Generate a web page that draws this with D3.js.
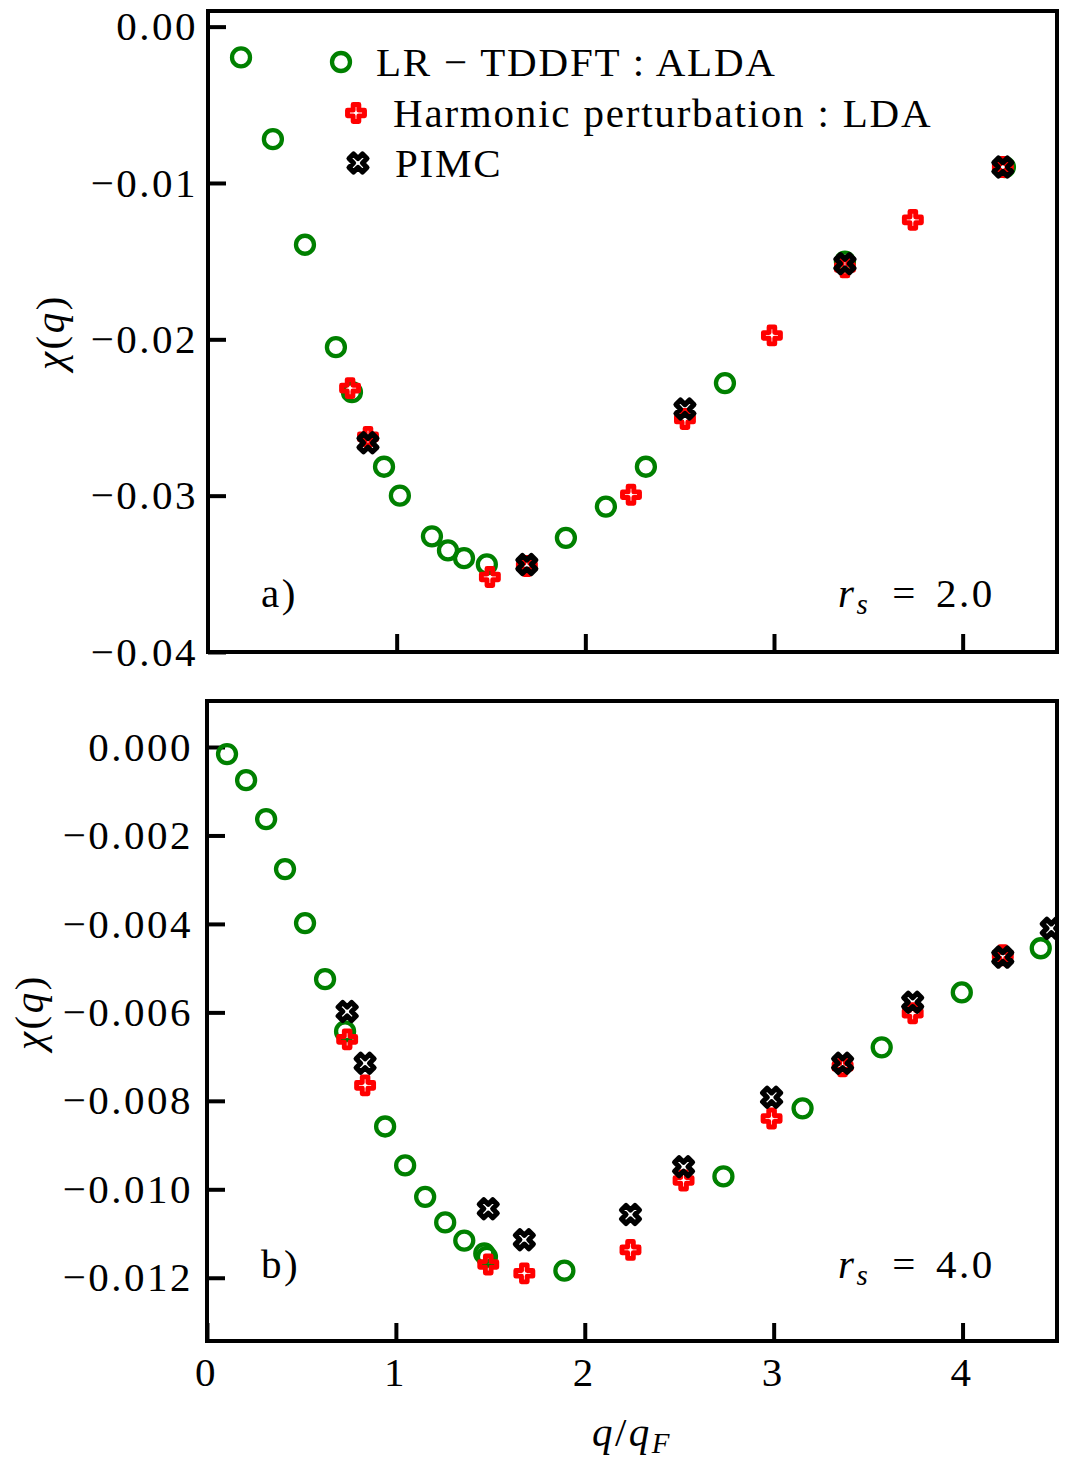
<!DOCTYPE html>
<html>
<head>
<meta charset="utf-8">
<script src="https://cdn.jsdelivr.net/npm/d3@7/dist/d3.min.js"></script>
<style>
  body { margin: 0; background: #fff; }
  svg text { font-family: "Liberation Serif", "DejaVu Serif", serif; fill: #000; letter-spacing: 2.5px; }
</style>
</head>
<body>
<svg id="chart" width="1070" height="1460"></svg>
<script>
// ---- data ----
// panel a) rs = 2.0
const aTddftQ   = [0.175, 0.344, 0.514, 0.678, 0.763, 0.933, 1.017, 1.187, 1.272, 1.357, 1.478, 1.897, 2.109, 2.321, 2.740, 3.376, 4.224];
const aTddftChi = [-0.00197, -0.0072, -0.01395, -0.0205, -0.02338, -0.02815, -0.0300, -0.0326, -0.0335, -0.0340, -0.0344, -0.0327, -0.0307, -0.02815, -0.0228, -0.01503, -0.00898];
const aHarmQ    = [0.753, 0.848, 1.494, 1.690, 2.242, 2.528, 2.989, 3.376, 3.736, 4.213];
const aHarmChi  = [-0.02312, -0.02624, -0.0352, -0.0345, -0.02994, -0.0251, -0.01975, -0.0154, -0.01236, -0.00898];
const aPimcQ    = [0.848, 1.690, 2.528, 3.376, 4.213];
const aPimcChi  = [-0.02662, -0.0344, -0.02446, -0.01516, -0.00898];

// panel b) rs = 4.0
const bTddftQ   = [0.106, 0.207, 0.313, 0.413, 0.519, 0.625, 0.731, 0.943, 1.049, 1.155, 1.261, 1.362, 1.468, 1.482, 1.892, 2.734, 3.153, 3.572, 3.996, 4.414];
const bTddftChi = [-0.00016, -0.00075, -0.00163, -0.00276, -0.00398, -0.00525, -0.00643, -0.00858, -0.00946, -0.01017, -0.01075, -0.01116, -0.01145, -0.01153, -0.01184, -0.00971, -0.00817, -0.00679, -0.00555, -0.00455];
const bHarmQ    = [0.742, 0.837, 1.489, 1.680, 2.242, 2.523, 2.989, 3.365, 3.736, 4.213];
const bHarmChi  = [-0.00661, -0.00765, -0.0117, -0.0119, -0.01137, -0.0098, -0.0084, -0.00722, -0.00602, -0.00471];
const bPimcQ    = [0.742, 0.837, 1.489, 1.680, 2.242, 2.523, 2.989, 3.365, 3.736, 4.213, 4.470];
const bPimcChi  = [-0.00598, -0.00715, -0.01044, -0.01114, -0.01057, -0.00949, -0.00792, -0.00715, -0.00577, -0.00475, -0.0041];

// ticks
const xTicks = [0, 1, 2, 3, 4];
const xTickLabels = ["0", "1", "2", "3", "4"];
const aYTicks = [0, -0.01, -0.02, -0.03, -0.04];
const aYTickLabels = ["0.00", "\u22120.01", "\u22120.02", "\u22120.03", "\u22120.04"];
const bYTicks = [0, -0.002, -0.004, -0.006, -0.008, -0.010, -0.012];
const bYTickLabels = ["0.000", "\u22120.002", "\u22120.004", "\u22120.006", "\u22120.008", "\u22120.010", "\u22120.012"];

const legendLabels = ["LR \u2212 TDDFT : ALDA", "Harmonic perturbation : LDA", "PIMC"];

// ---- layout ----
const svg = d3.select("#chart");
const fontSize = 41;
const right = 1057;
const green = "#008000", red = "#ff0000", black = "#000000";

// matplotlib-like filled plus ("P") outline, size = full width
const plusPath = (s) => {
    const u = s / 6;
    const pts = [[-1, -3], [1, -3], [1, -1], [3, -1], [3, 1], [1, 1], [1, 3], [-1, 3], [-1, 1], [-3, 1], [-3, -1], [-1, -1]];
    return "M" + pts.map(p => [p[0] * u, p[1] * u].join(",")).join("L") + "Z";
};

const drawMarker = (g, kind, x, y) => {
    if (kind === "circle") {
        g.append("circle")
            .attr("cx", x).attr("cy", y).attr("r", 9)
            .attr("fill", "none").attr("stroke", green).attr("stroke-width", 4.3);
    } else {
        const size = kind === "x" ? 19 : 17;
        g.append("path")
            .attr("d", plusPath(size))
            .attr("transform", `translate(${x},${y})` + (kind === "x" ? " rotate(45)" : ""))
            .attr("fill", "none")
            .attr("stroke", kind === "x" ? black : red)
            .attr("stroke-width", kind === "x" ? 5.2 : 4.9)
            .attr("stroke-linejoin", "round");
    }
};

const drawPanel = (cfg) => {
    const x = d3.scaleLinear().domain([0, 4.5]).range([cfg.left, right]);
    const y = d3.scaleLinear().domain(cfg.yDomain).range([cfg.bottom, cfg.top]);

    const clipId = "clip-" + cfg.name;
    svg.append("clipPath").attr("id", clipId)
        .append("rect")
        .attr("x", cfg.left).attr("y", cfg.top)
        .attr("width", right - cfg.left).attr("height", cfg.bottom - cfg.top);

    // y axis, ticks pointing inward
    const yAxis = d3.axisLeft(y)
        .tickValues(cfg.yTicks)
        .tickFormat((d, i) => cfg.yTickLabels[i])
        .tickSize(-18)
        .tickPadding(cfg.yPad);
    const gy = svg.append("g")
        .attr("transform", `translate(${cfg.left},0)`)
        .call(yAxis);
    gy.select(".domain").remove();
    gy.selectAll(".tick line").attr("stroke", black).attr("stroke-width", 4);
    gy.selectAll(".tick text").attr("font-size", fontSize).attr("font-family", "Liberation Serif");

    // x axis, ticks pointing inward
    const xAxis = d3.axisBottom(x)
        .tickValues(cfg.showXLabels ? xTicks : xTicks.slice(1))
        .tickFormat((d, i) => cfg.showXLabels ? xTickLabels[i] : "")
        .tickSize(-18)
        .tickPadding(16);
    const gx = svg.append("g")
        .attr("transform", `translate(0,${cfg.bottom})`)
        .call(xAxis);
    gx.select(".domain").remove();
    gx.selectAll(".tick line").attr("stroke", black).attr("stroke-width", 4);
    gx.selectAll(".tick text").attr("font-size", fontSize).attr("font-family", "Liberation Serif")
        .attr("dy", "0.71em").attr("dx", -1);

    // markers: TDDFT, then harmonic, then PIMC on top
    const marks = svg.append("g").attr("clip-path", `url(#${clipId})`);
    cfg.tddftQ.forEach((q, i) => drawMarker(marks, "circle", x(q), y(cfg.tddftChi[i])));
    cfg.harmQ.forEach((q, i) => drawMarker(marks, "plus", x(q), y(cfg.harmChi[i])));
    cfg.pimcQ.forEach((q, i) => drawMarker(marks, "x", x(q), y(cfg.pimcChi[i])));

    // frame
    svg.append("rect")
        .attr("x", cfg.left).attr("y", cfg.top)
        .attr("width", right - cfg.left).attr("height", cfg.bottom - cfg.top)
        .attr("fill", "none").attr("stroke", black).attr("stroke-width", 4);

    // panel tag and rs label
    svg.append("text")
        .attr("x", 261).attr("y", cfg.labelY)
        .attr("font-size", fontSize)
        .text(cfg.tag);

    const rs = svg.append("text")
        .attr("x", 838).attr("y", cfg.labelY)
        .attr("font-size", fontSize);
    rs.append("tspan").attr("font-style", "italic").text("r");
    rs.append("tspan").attr("font-style", "italic").attr("font-size", 29).attr("dy", 7).text("s");
    rs.append("tspan").attr("dy", -7).attr("dx", 22).text("=");
    rs.append("tspan").attr("dx", 18).text(cfg.rs);

    // y label
    const yl = svg.append("text")
        .attr("transform", `translate(${cfg.yLabelX},${cfg.yLabelY}) rotate(-90)`)
        .attr("text-anchor", "middle")
        .attr("font-size", fontSize);
    yl.append("tspan").attr("font-style", "italic").text("\u03c7");
    yl.append("tspan").text("(");
    yl.append("tspan").attr("font-style", "italic").text("q");
    yl.append("tspan").text(")");

    return { x, y };
};

drawPanel({
    name: "a", top: 11, bottom: 652, left: 208, yDomain: [-0.04, 0.001],
    yTicks: aYTicks, yTickLabels: aYTickLabels, showXLabels: false, yPad: 10,
    tddftQ: aTddftQ, tddftChi: aTddftChi, harmQ: aHarmQ, harmChi: aHarmChi, pimcQ: aPimcQ, pimcChi: aPimcChi,
    tag: "a)", rs: "2.0", yLabelX: 64, yLabelY: 332, labelY: 607
});

drawPanel({
    name: "b", top: 701, bottom: 1341, left: 207, yDomain: [-0.01343, 0.00104],
    yTicks: bYTicks, yTickLabels: bYTickLabels, showXLabels: true, yPad: 14,
    tddftQ: bTddftQ, tddftChi: bTddftChi, harmQ: bHarmQ, harmChi: bHarmChi, pimcQ: bPimcQ, pimcChi: bPimcChi,
    tag: "b)", rs: "4.0", yLabelX: 43, yLabelY: 1012, labelY: 1278
});

// x label
const xl = svg.append("text")
    .attr("x", 632).attr("y", 1446)
    .attr("text-anchor", "middle")
    .attr("font-size", fontSize);
xl.append("tspan").attr("font-style", "italic").text("q");
xl.append("tspan").text("/");
xl.append("tspan").attr("font-style", "italic").text("q");
xl.append("tspan").attr("font-style", "italic").attr("font-size", 29).attr("dy", 7).text("F");

// legend in panel a)
const legend = svg.append("g");
const legendRows = [
    { kind: "circle", mx: 341, tx: 376, y: 62 },
    { kind: "plus", mx: 356, tx: 393, y: 113 },
    { kind: "x", mx: 358, tx: 395, y: 163 }
];
legendRows.forEach((r, i) => {
    drawMarker(legend, r.kind, r.mx, r.y);
    legend.append("text")
        .attr("x", r.tx).attr("y", r.y + 14)
        .attr("font-size", fontSize)
        .style("letter-spacing", "1.8px")
        .text(legendLabels[i]);
});
</script>
</body>
</html>
